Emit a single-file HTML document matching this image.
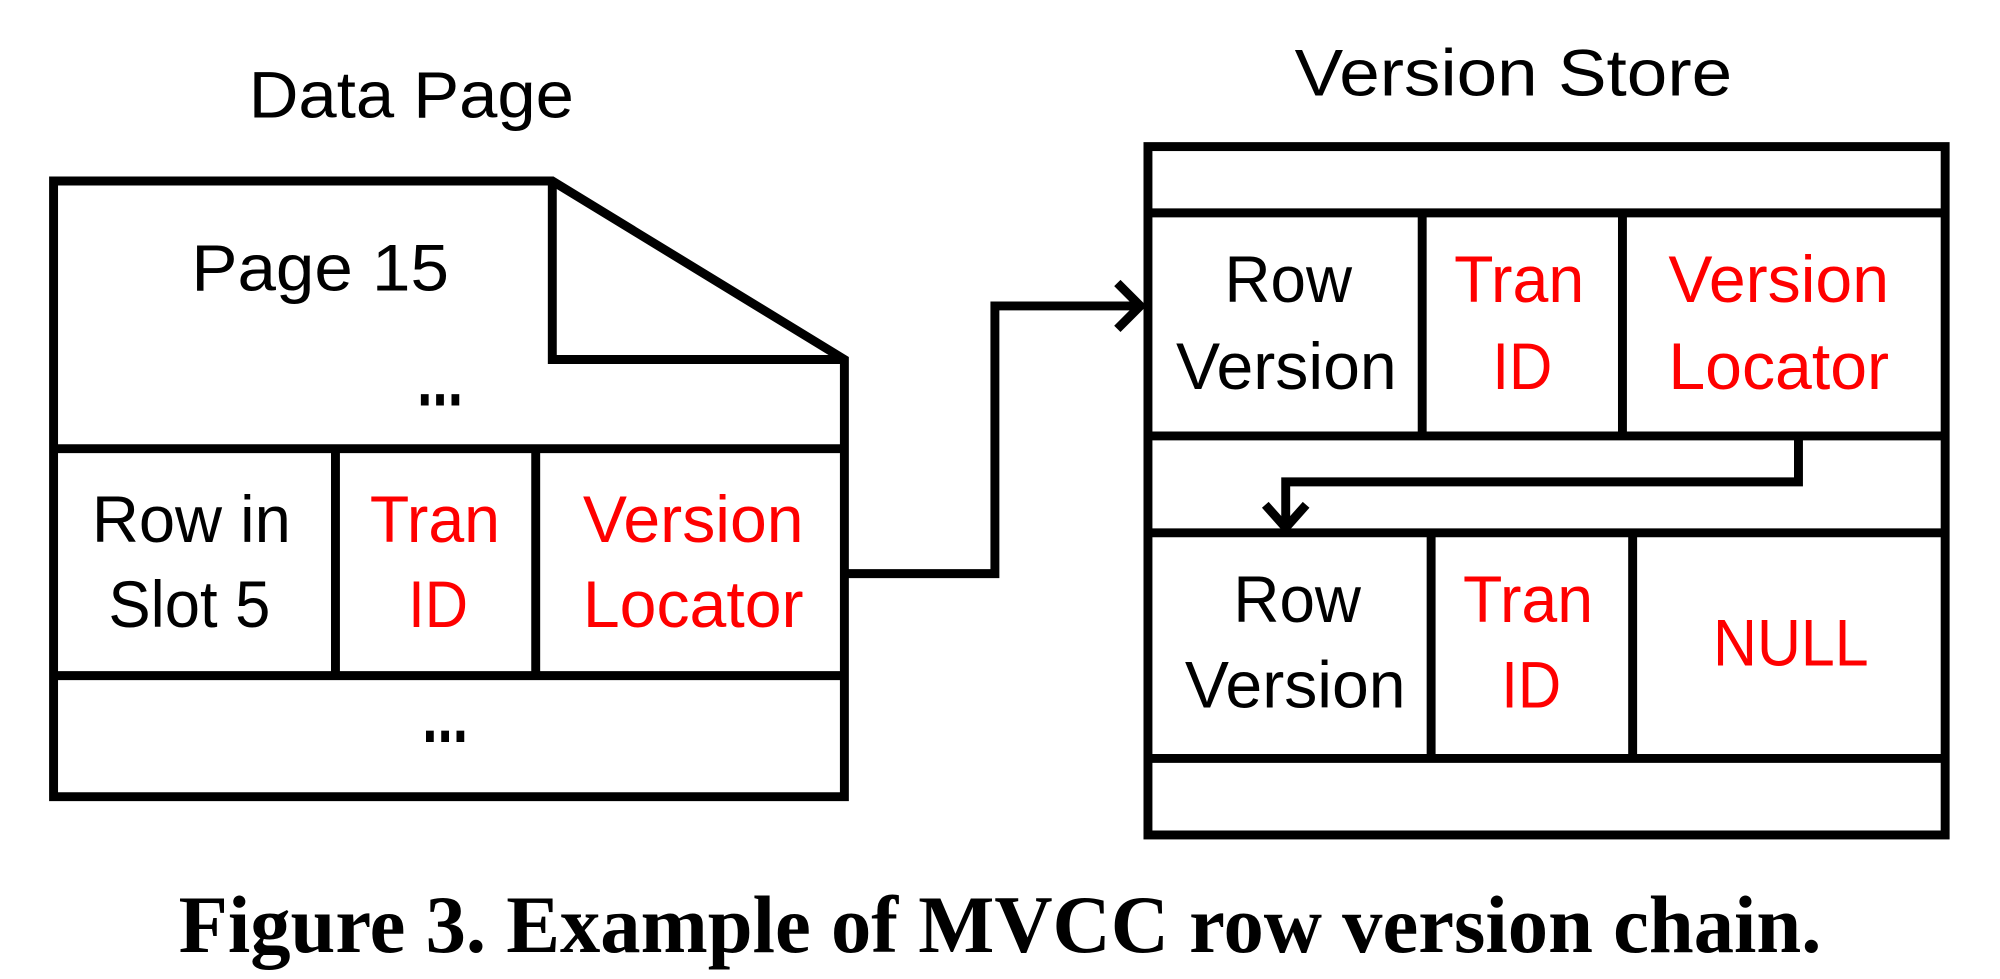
<!DOCTYPE html>
<html><head><meta charset="utf-8"><style>
html,body{margin:0;padding:0;background:#fff;}
svg{display:block;}
text{font-family:"Liberation Sans",sans-serif;font-size:52px;}
.r{fill:#f00;}
.k{fill:#000;}
</style></head><body>
<svg width="2000" height="979" viewBox="0 0 1568 768" preserveAspectRatio="none" xmlns="http://www.w3.org/2000/svg">
<g fill="none" stroke="#000" stroke-width="7" stroke-linejoin="miter">
<path d="M42,142 L433,142 L662,282 L662,625 L42,625 Z"/>
<path d="M433,142 L433,282 L662,282"/>
<line x1="42" y1="352" x2="662" y2="352"/>
<line x1="42" y1="530" x2="662" y2="530"/>
<line x1="263" y1="352" x2="263" y2="530"/>
<line x1="420" y1="352" x2="420" y2="530"/>
<path d="M662,450 L780,450 L780,240 L892,240"/>
<path d="M876,222 L894,240 L876,258"/>
<rect x="900" y="115" width="625" height="540"/>
<line x1="900" y1="167" x2="1525" y2="167"/>
<line x1="900" y1="342" x2="1525" y2="342"/>
<line x1="900" y1="418" x2="1525" y2="418"/>
<line x1="900" y1="595" x2="1525" y2="595"/>
<line x1="1115" y1="167" x2="1115" y2="342"/>
<line x1="1272" y1="167" x2="1272" y2="342"/>
<line x1="1122" y1="418" x2="1122" y2="595"/>
<line x1="1280" y1="418" x2="1280" y2="595"/>
<path d="M1410,342 L1410,378 L1008,378 L1008,412"/>
<path d="M992,396 L1008,414 L1024,396"/>
</g>
<text class="k" x="195" y="92" textLength="255" lengthAdjust="spacingAndGlyphs">Data Page</text>
<text class="k" x="1015" y="75" textLength="343" lengthAdjust="spacingAndGlyphs">Version Store</text>
<text class="k" x="150" y="228" textLength="202" lengthAdjust="spacingAndGlyphs">Page 15</text>
<text class="k" x="327" y="318" font-weight="bold" style="font-size:60px" textLength="36" lengthAdjust="spacingAndGlyphs">...</text>
<text class="k" x="331" y="582" font-weight="bold" style="font-size:60px" textLength="36" lengthAdjust="spacingAndGlyphs">...</text>
<text class="k" x="72" y="425" textLength="156" lengthAdjust="spacingAndGlyphs">Row in</text>
<text class="k" x="85" y="492" textLength="127" lengthAdjust="spacingAndGlyphs">Slot 5</text>
<text class="r" x="290" y="425" textLength="102" lengthAdjust="spacingAndGlyphs">Tran</text>
<text class="r" x="320" y="492" textLength="47" lengthAdjust="spacingAndGlyphs">ID</text>
<text class="r" x="457" y="425" textLength="173" lengthAdjust="spacingAndGlyphs">Version</text>
<text class="r" x="457" y="492" textLength="173" lengthAdjust="spacingAndGlyphs">Locator</text>
<text class="k" x="960" y="237" textLength="100" lengthAdjust="spacingAndGlyphs">Row</text>
<text class="k" x="922" y="305" textLength="173" lengthAdjust="spacingAndGlyphs">Version</text>
<text class="r" x="1140" y="237" textLength="102" lengthAdjust="spacingAndGlyphs">Tran</text>
<text class="r" x="1170" y="305" textLength="47" lengthAdjust="spacingAndGlyphs">ID</text>
<text class="r" x="1308" y="237" textLength="173" lengthAdjust="spacingAndGlyphs">Version</text>
<text class="r" x="1308" y="305" textLength="173" lengthAdjust="spacingAndGlyphs">Locator</text>
<text class="k" x="967" y="488" textLength="100" lengthAdjust="spacingAndGlyphs">Row</text>
<text class="k" x="929" y="555" textLength="173" lengthAdjust="spacingAndGlyphs">Version</text>
<text class="r" x="1147" y="488" textLength="102" lengthAdjust="spacingAndGlyphs">Tran</text>
<text class="r" x="1177" y="555" textLength="47" lengthAdjust="spacingAndGlyphs">ID</text>
<text class="r" x="1343" y="522" textLength="122" lengthAdjust="spacingAndGlyphs">NULL</text>
<text x="140" y="747" style="font-family:'Liberation Serif',serif;font-weight:bold;font-size:64px" textLength="1288" lengthAdjust="spacingAndGlyphs">Figure 3. Example of MVCC row version chain.</text>
</svg>
</body></html>
